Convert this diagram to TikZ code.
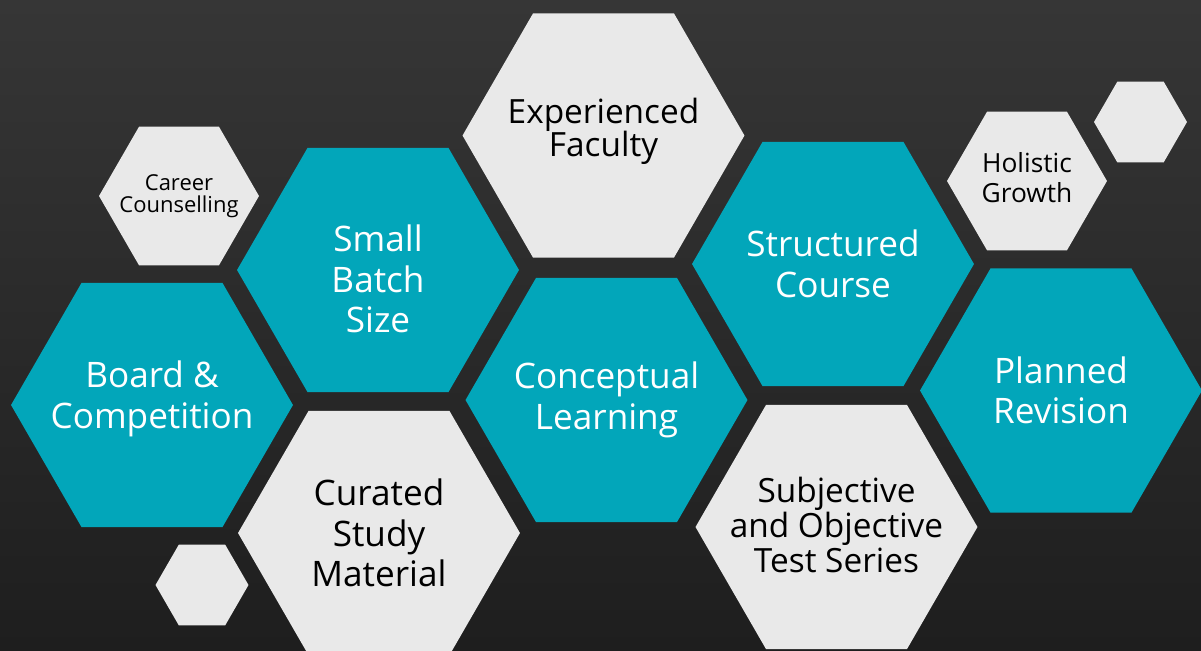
\documentclass[tikz,border=0pt]{standalone}
\usepackage{fontspec}
\setmainfont{Open Sans}
\usetikzlibrary{shapes.geometric,calc}
\definecolor{tafeloben}{HTML}{363636}
\definecolor{tafelunten}{HTML}{1E1E1E}
\definecolor{tuerkis}{HTML}{02A6BA}
\definecolor{hellgrau}{HTML}{E9E9E9}

\begin{document}
\begin{tikzpicture}[x=0.02cm,y=-0.02cm,
    hexa/.style = {regular polygon, regular polygon sides=6, inner sep=0pt},
    gross/.style = {hexa, minimum size=5.64cm},
    mittel/.style = {hexa, minimum size=3.2cm},
    klein/.style = {hexa, minimum size=1.86cm},
    blau/.style = {fill=tuerkis},
    hell/.style = {fill=hellgrau},
    weiss/.style = {text=white, align=center, inner sep=0pt, font=\fontsize{20}{23}\selectfont},
    schwarz/.style = {text=black, align=center, inner sep=0pt}]
    % Tafel als Hintergrund
    \shade[top color=tafeloben, bottom color=tafelunten] (0,0) rectangle (1201,650);
    \useasboundingbox (0,0) rectangle (1201,650);

    % Linke Spalte
    \node[mittel, hell] (career) at (179,196) {};
    \node[schwarz, font=\fontsize{12.5}{12.5}\selectfont] (career-t) at (career) {Career\\Counselling};
    \node[gross, blau] (board) at (152,405) {};
    \node[weiss] (board-t) at ($(board) + (0,-6)$) {Board \&\\Competition};
    \node[klein, hell] (klein1) at (202,585) {};

    % Zweite Spalte
    \node[gross, blau] (batch) at (378,270) {};
    \node[weiss] (batch-t) at ($(batch) + (0,9)$) {Small\\Batch\\Size};
    \node[gross, hell] (curated) at (379,533) {};
    \node[schwarz, font=\fontsize{20}{23}\selectfont] (curated-t) at (curated) {Curated\\Study\\Material};

    % Mittlere Spalte
    \node[gross, hell] (faculty) at (603.5,135.5) {};
    \node[schwarz, font=\fontsize{19}{19}\selectfont] (faculty-t) at ($(faculty) + (0,-4)$) {Experienced\\Faculty};
    \node[gross, blau] (concept) at (606.5,400) {};
    \node[weiss] (concept-t) at (concept) {Conceptual\\Learning};

    % Vierte Spalte
    \node[gross, blau] (course) at (833,264) {};
    \node[weiss] (course-t) at (course) {Structured\\Course};
    \node[gross, hell] (tests) at (836.5,527) {};
    \node[schwarz, font=\fontsize{19}{20}\selectfont] (tests-t) at ($(tests) + (0,-2)$) {Subjective\\and Objective\\Test Series};

    % Rechte Spalte
    \node[mittel, hell] (growth) at (1027,181) {};
    \node[schwarz, font=\fontsize{15}{17}\selectfont] (growth-t) at ($(growth) + (0,-3)$) {Holistic\\Growth};
    \node[klein, hell] (klein2) at (1140.5,122) {};
    \node[gross, blau] (revision) at (1061,390.5) {};
    \node[weiss] (revision-t) at (revision) {Planned\\Revision};
\end{tikzpicture}
\end{document}
